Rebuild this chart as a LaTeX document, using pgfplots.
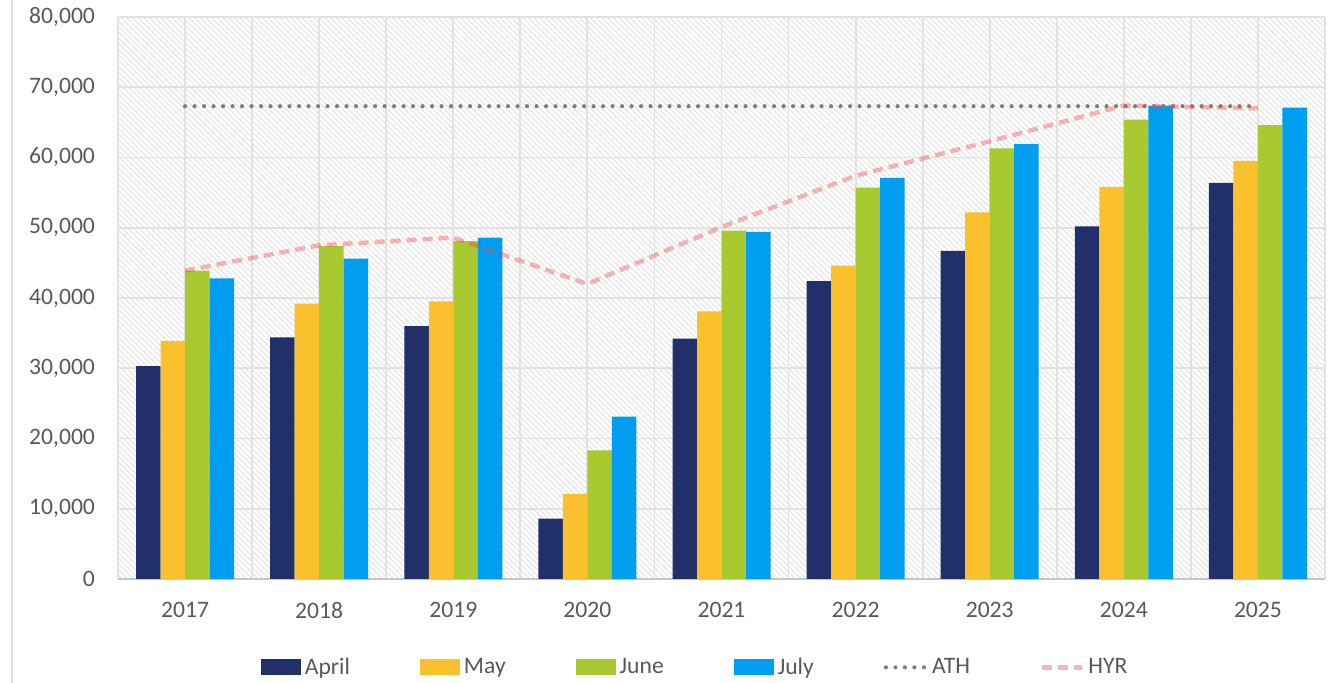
\documentclass[border=0pt]{standalone}
\usepackage{fontspec}
\setmainfont{Carlito}
\usepackage{pgfplots}
\pgfplotsset{compat=1.18}
\usetikzlibrary{patterns.meta}

\definecolor{cApr}{HTML}{21306B}
\definecolor{cMay}{HTML}{FBC02D}
\definecolor{cJun}{HTML}{A8C930}
\definecolor{cJul}{HTML}{009EF0}
\definecolor{cAth}{HTML}{7F7F7F}
\definecolor{cHyr}{HTML}{F04848}
\definecolor{labgray}{HTML}{595959}
\definecolor{gridgray}{HTML}{E2E2E2}

\pgfplotsset{
  barleg/.style={legend image code/.code={\fill[##1] (0pt,-4pt) rectangle (20pt,4pt);}},
  lineleg/.style={legend image code/.code={\draw[##1] (0pt,0pt) -- (20pt,0pt);}},
}

\begin{document}
\begin{tikzpicture}
\begin{axis}[
  scale only axis, width=603.5pt, height=281pt,
  xmin=-0.5, xmax=8.5, ymin=0, ymax=80000,
  enlargelimits=false,
  xtick={0,...,8},
  xticklabels={2017,2018,2019,2020,2021,2022,2023,2024,2025},
  minor xtick={-0.5,0.5,...,8.5},
  ytick={0,10000,...,80000},
  scaled y ticks=false,
  /pgf/number format/.cd, 1000 sep={,}, fixed, assume math mode=true, /pgfplots/.cd,
  xmajorgrids, xminorgrids, ymajorgrids,
  grid style={draw=gridgray, line width=0.9pt},
  minor grid style={draw=gridgray, line width=0.9pt},
  major tick length=0pt, minor tick length=0pt,
  tick style={draw=none},
  axis x line*=bottom, axis y line*=left,
  x axis line style={draw=gray!45, line width=1pt, -},
  y axis line style={draw=none},
  axis background/.style={pattern={Lines[angle=-45, distance=2pt, line width=0.5pt]}, pattern color=gray!22},
  ticklabel style={font=\fontsize{11.8}{14}\selectfont, text=labgray},
  xticklabel style={yshift=-8pt},
  yticklabel style={xshift=-8pt},
  legend style={at={(axis description cs:0.479,-0.125)}, anchor=north, draw=none,
    legend columns=6, font=\fontsize{11.8}{14}\selectfont, text=labgray,
    /tikz/every even column/.append style={column sep=33pt}},
]
\addplot[ybar, bar width=12.25pt, bar shift=-18.375pt, fill=cApr, draw=none, barleg]
  coordinates {(0,30300)(1,34400)(2,36000)(3,8600)(4,34200)(5,42400)(6,46700)(7,50200)(8,56400)};
\addplot[ybar, bar width=12.25pt, bar shift=-6.125pt, fill=cMay, draw=none, barleg]
  coordinates {(0,33900)(1,39200)(2,39500)(3,12100)(4,38100)(5,44600)(6,52200)(7,55800)(8,59500)};
\addplot[ybar, bar width=12.25pt, bar shift=6.125pt, fill=cJun, draw=none, barleg]
  coordinates {(0,43900)(1,47400)(2,48100)(3,18300)(4,49600)(5,55700)(6,61300)(7,65400)(8,64600)};
\addplot[ybar, bar width=12.25pt, bar shift=18.375pt, fill=cJul, draw=none, barleg]
  coordinates {(0,42800)(1,45600)(2,48600)(3,23100)(4,49400)(5,57100)(6,61900)(7,67400)(8,67100)};
\addplot[sharp plot, no marks, draw=cAth, line width=2.1pt, line cap=round,
  dash pattern=on 0pt off 4.75pt, lineleg]
  coordinates {(0,67300)(1,67300)(2,67300)(3,67300)(4,67300)(5,67300)(6,67300)(7,67300)(8,67300)};
\addplot[sharp plot, no marks, draw=cHyr, draw opacity=0.4, line width=2.2pt,
  dash pattern=on 5pt off 3pt, lineleg]
  coordinates {(0,43900)(1,47500)(2,48600)(3,42000)(4,50100)(5,57400)(6,62300)(7,67400)(8,67000)};
\legend{April,May,June,July,ATH,HYR}
\coordinate (bl) at (axis description cs:-0.09776,-0.18505);
\coordinate (tr) at (axis description cs:1.01243,1.03025);
\coordinate (fb) at (axis description cs:-0.08782,-0.18505);
\coordinate (ft) at (axis description cs:-0.08782,1.03025);
\end{axis}
\draw[gray!25, line width=1pt] (fb) -- (ft);
\pgfresetboundingbox
\useasboundingbox (bl) rectangle (tr);
\end{tikzpicture}
\end{document}
